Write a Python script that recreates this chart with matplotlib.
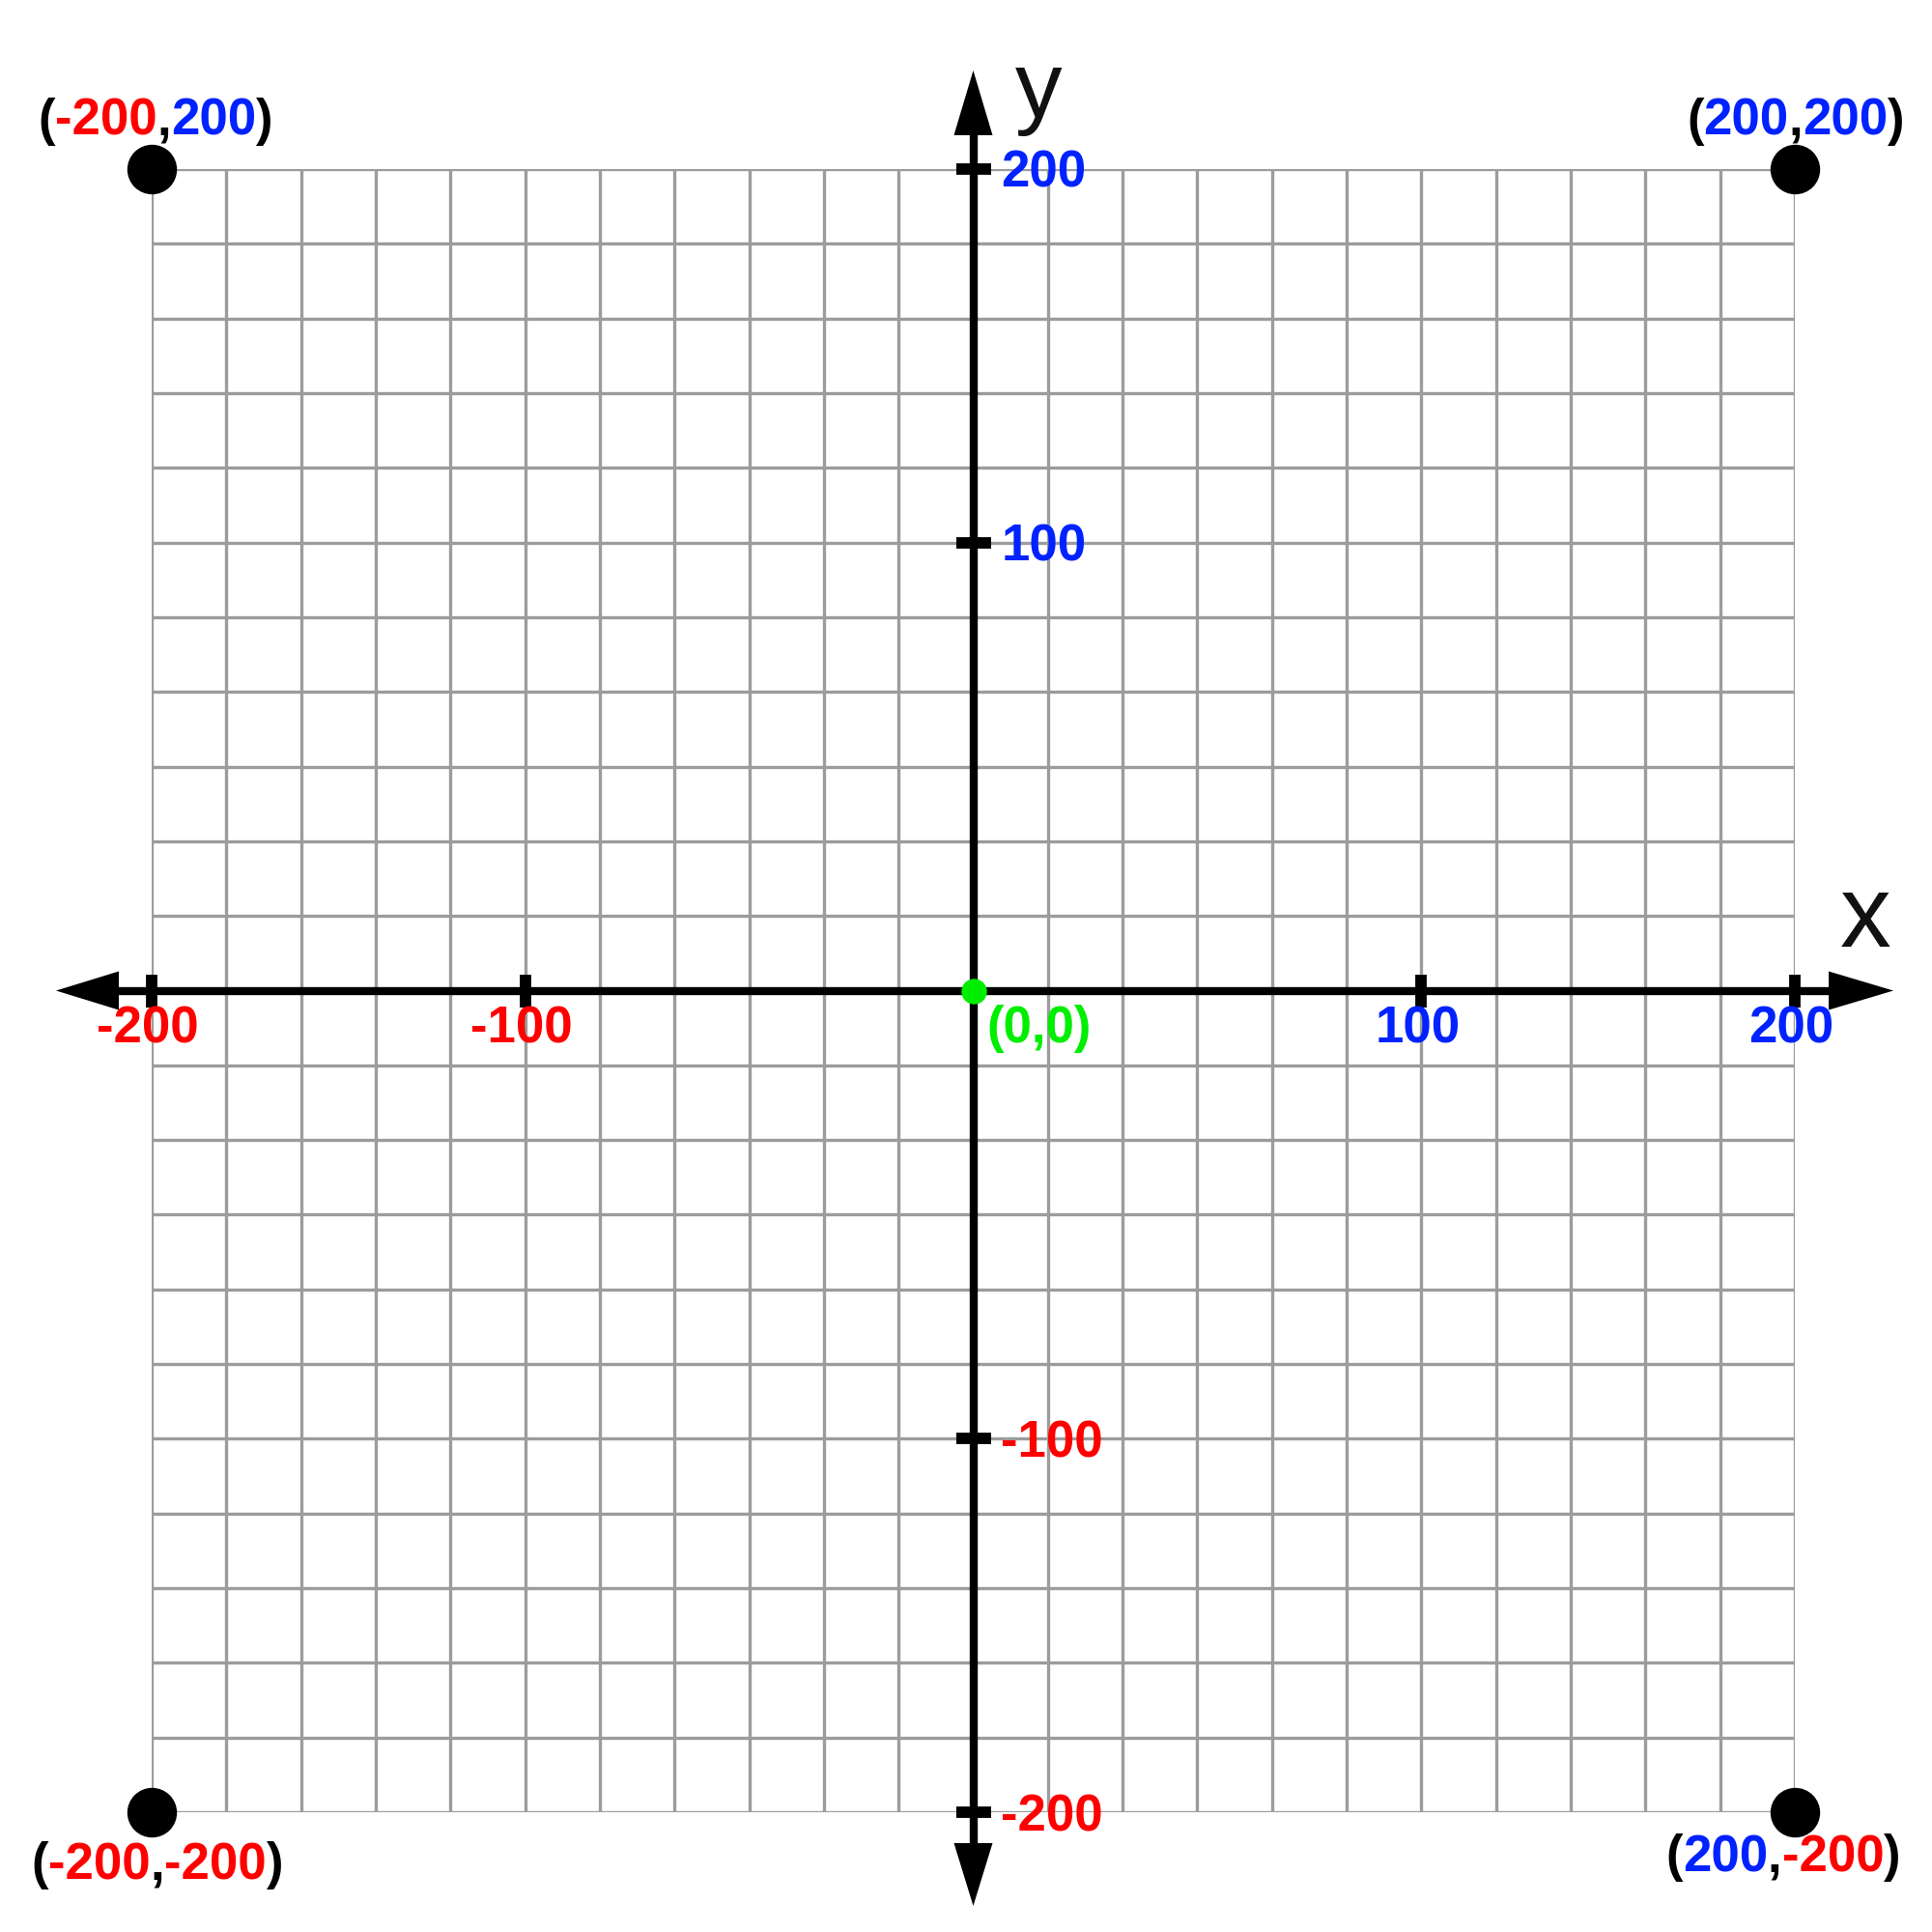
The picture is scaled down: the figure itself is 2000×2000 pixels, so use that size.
import numpy as np
import matplotlib
matplotlib.use("Agg")
import matplotlib.pyplot as plt
from matplotlib.patches import Polygon
from matplotlib.offsetbox import TextArea, HPacker, AnnotationBbox

# ---------------- data ----------------
axis_values = [-200, -100, 0, 100, 200]      # labelled values on each axis
axis_grid_units = [0, 5, 11, 17, 22]         # grid cell where each value is drawn (uneven, as in picture)
n_cells = 22
x_tick_values = [-200, -100, 100, 200]
y_tick_values = [200, 100, -100, -200]
corner_x = [-200, 200, -200, 200]
corner_y = [200, 200, -200, -200]
origin_x = [0]
origin_y = [0]

# ---------------- style ----------------
RED = "#ff0000"
BLUE = "#0022ff"
GREEN = "#00ee00"
FONT = "Liberation Sans"
FS = 38
corner_label_offsets = [(4, 24), (1, 24), (6, -30), (-12, -22)]   # pixels

def col(v):
    return RED if v < 0 else BLUE

fig = plt.figure(figsize=(20, 20), dpi=100)
ax = fig.add_axes([157 / 2000, 1 - 1876 / 2000, 1701 / 2000, 1701 / 2000])

fwd = lambda v: np.interp(v, axis_values, axis_grid_units)
inv = lambda u: np.interp(u, axis_grid_units, axis_values)
ax.set_xscale("function", functions=(fwd, inv))
ax.set_yscale("function", functions=(fwd, inv))
ax.set_xlim(axis_values[0], axis_values[-1])
ax.set_ylim(axis_values[0], axis_values[-1])
ax.set_axis_off()

# grid
grid_vals = inv(np.arange(n_cells + 1))
ax.vlines(grid_vals, axis_values[0], axis_values[-1], colors="#9c9c9c", lw=2.4, zorder=1)
ax.hlines(grid_vals, axis_values[0], axis_values[-1], colors="#9c9c9c", lw=2.4, zorder=1)

# axis lines
ax.plot([-0.03, 1.03], [0, 0], transform=ax.get_yaxis_transform(), color="k",
        lw=6, clip_on=False, solid_capstyle="butt", zorder=3)
ax.plot([0, 0], [-0.03, 1.03], transform=ax.get_xaxis_transform(), color="k",
        lw=6, clip_on=False, solid_capstyle="butt", zorder=3)

# arrow heads
ox, oy = ax.transAxes.inverted().transform(ax.transData.transform((0, 0)))
h = 20 / 1701
heads = [
    [(1.060, oy), (1.0206, oy + h), (1.0206, oy - h)],
    [(-0.0582, oy), (-0.020, oy + h), (-0.020, oy - h)],
    [(ox, 1.060), (ox - h, 1.0206), (ox + h, 1.0206)],
    [(ox, -0.057), (ox - h, -0.0188), (ox + h, -0.0188)],
]
for pts in heads:
    ax.add_patch(Polygon(pts, closed=True, transform=ax.transAxes, facecolor="k",
                         edgecolor="none", clip_on=False, zorder=3))

# ticks
ax.plot(x_tick_values, [0] * len(x_tick_values), ls="none", marker="|", ms=25, mew=8.5,
        color="k", clip_on=False, zorder=4)
ax.plot([0] * len(y_tick_values), y_tick_values, ls="none", marker="_", ms=26, mew=8.5,
        color="k", clip_on=False, zorder=4)

# tick labels
for v in x_tick_values:
    ax.annotate(f"{v}", xy=(v, 0), xytext=(-4, -54), textcoords="offset pixels",
                ha="center", va="baseline", color=col(v), fontsize=FS,
                fontweight="bold", family=FONT, annotation_clip=False, zorder=5)
for v in y_tick_values:
    ax.annotate(f"{v}", xy=(0, v), xytext=(29, -19), textcoords="offset pixels",
                ha="left", va="baseline", color=col(v), fontsize=FS,
                fontweight="bold", family=FONT, annotation_clip=False, zorder=5)

# corner points
ax.plot(corner_x, corner_y, ls="none", marker="o", ms=36, color="k", clip_on=False, zorder=6)
ax.plot(origin_x, origin_y, ls="none", marker="o", ms=18, color=GREEN, clip_on=False, zorder=6)

ax.annotate(f"({origin_x[0]},{origin_y[0]})", xy=(origin_x[0], origin_y[0]), xytext=(14, -15),
            textcoords="offset pixels", ha="left", va="top", color=GREEN, fontsize=FS,
            fontweight="bold", family=FONT, zorder=6)

def tp(c):
    return dict(color=c, fontsize=FS, fontweight="bold", family=FONT)

for (cx, cy), off in zip(zip(corner_x, corner_y), corner_label_offsets):
    parts = [("(", "k"), (f"{cx}", col(cx)), (",", "k"), (f"{cy}", col(cy)), (")", "k")]
    box = HPacker(children=[TextArea(s, textprops=tp(c)) for s, c in parts],
                  align="baseline", pad=0, sep=0)
    align = (0.5, 0) if cy > 0 else (0.5, 1)
    ab = AnnotationBbox(box, (cx, cy), xybox=off, boxcoords="offset pixels",
                        box_alignment=align, frameon=False, pad=0, annotation_clip=False,
                        zorder=7)
    ax.add_artist(ab)

# axis names
ax.annotate("x", xy=(1.043, 0), xycoords=("axes fraction", "data"), xytext=(0, 45),
            textcoords="offset pixels", ha="center", va="baseline", fontsize=76,
            color="#111111", family=FONT, annotation_clip=False)
ax.annotate("y", xy=(0, 1.034), xycoords=("data", "axes fraction"), xytext=(68, -4),
            textcoords="offset pixels", ha="center", va="baseline", fontsize=70,
            color="#111111", family=FONT, annotation_clip=False)

fig.savefig("out.png", dpi=100, facecolor="white")
